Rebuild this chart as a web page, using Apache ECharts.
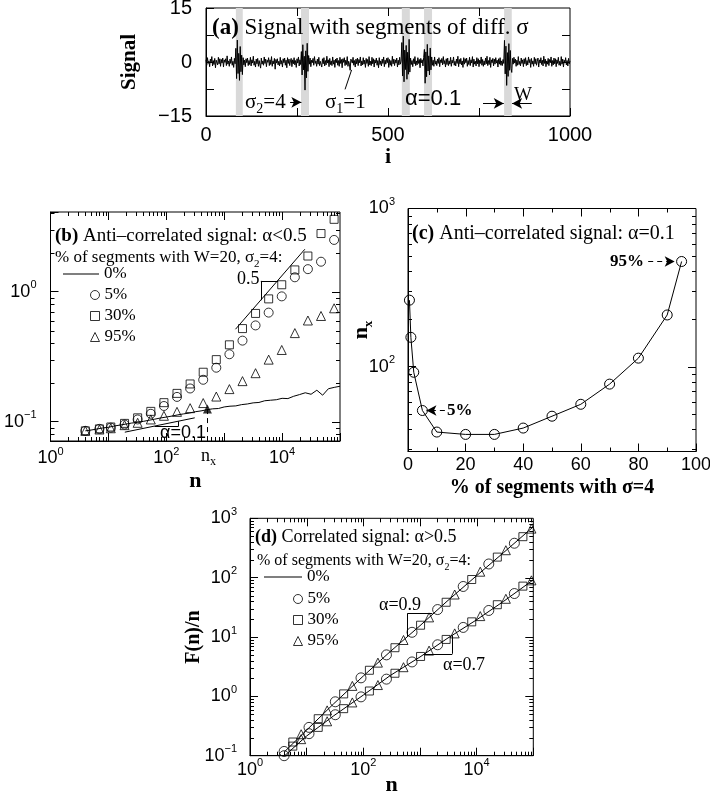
<!DOCTYPE html>
<html><head><meta charset="utf-8">
<script src="https://cdn.jsdelivr.net/npm/echarts@6/dist/echarts.min.js"></script>
<style>html,body{margin:0;padding:0;background:#fff}#c{width:710px;height:796px}</style>
</head><body><div id="c"></div>
<script>
// ---------------- DATA ----------------
// (a) signal, one value per 2 steps of i (i = 0,2,...,1000)
const signal = [
0.6,-0.9,1.2,-0.4,0.3,-1.3,0.8,-0.2,1.5,-1.1,0.4,-0.7,1.0,-1.6,0.5,0.2,-0.8,1.3,-0.5,0.9,
-1.2,0.7,-0.3,1.1,-1.4,0.6,-0.1,0.9,-1.0,1.7,-0.6,0.3,-1.2,0.8,-0.4,1.4,-0.9,0.2,-1.5,1.0,
-0.5,3.8,-4.6,6.1,-3.2,2.4,-5.1,4.3,-2.7,1.9,-3.5,1.2,-0.8,0.5,-1.3,0.9,-0.2,1.1,-1.0,0.4,
-0.7,1.3,-1.1,0.6,-0.3,1.6,-0.9,0.2,-1.4,0.8,-0.5,1.0,-1.2,0.4,0.7,-1.7,1.1,-0.6,0.3,-0.9,
1.4,-0.4,0.8,-1.3,0.5,-0.1,1.2,-1.0,0.6,-0.7,1.5,-1.2,0.3,-0.5,1.0,-2.0,0.7,-0.3,0.9,-0.8,
0.2,-1.1,1.3,-0.6,0.4,-1.4,0.9,-0.2,1.1,-0.9,0.5,-1.6,1.2,-0.4,0.8,-1.0,0.3,1.0,-1.3,0.6,
-0.5,1.2,-0.8,0.4,-1.5,0.9,-0.3,1.4,-1.1,0.6,-0.7,2.9,-3.6,4.8,-2.2,1.6,-7.8,3.1,-4.4,5.2,
-2.6,1.8,-0.6,1.1,-1.3,0.5,-0.2,1.0,-0.9,1.5,-0.4,0.3,-1.2,0.8,-0.6,1.3,-1.0,0.2,0.7,-1.4,
0.9,-0.5,1.2,-1.1,0.4,-0.8,1.6,-0.3,0.6,-1.3,1.0,-0.7,0.3,-1.0,1.4,-0.6,0.5,-1.5,0.8,-0.2,
1.1,-0.9,0.4,-1.2,1.3,-0.4,0.7,-1.6,0.9,-0.1,1.2,-1.0,0.5,-0.7,1.5,-1.2,0.2,-0.6,-2.3,0.8,
0.6,-0.3,1.3,-0.9,0.4,-1.4,0.8,-0.5,1.1,-1.0,0.7,-0.2,1.4,-1.1,0.3,-0.8,1.2,-0.6,0.5,-1.5,
1.0,-0.4,0.7,-1.2,1.5,-0.8,0.2,-1.0,1.3,-0.5,0.9,-1.4,0.6,-0.3,1.1,-0.9,0.4,-1.6,1.2,-0.7,
0.3,-1.1,0.8,-0.4,1.4,-1.3,0.5,-0.6,1.0,-0.2,1.2,-1.5,0.7,-0.9,0.4,-1.2,1.6,-0.5,0.8,-1.0,
0.6,-0.3,1.1,-1.4,0.5,-0.8,1.3,-0.6,0.2,5.4,-3.9,7.2,-5.5,3.3,-2.1,4.6,-4.8,2.7,-3.4,6.3,
-2.8,1.1,-0.7,0.4,-1.3,0.9,-0.5,1.5,-1.0,0.3,-0.8,1.2,-0.4,0.7,-1.6,1.0,-0.2,0.6,-1.1,1.3,
3.5,-5.9,2.8,-4.1,4.9,-2.5,1.7,-3.6,3.9,-2.2,1.4,-0.9,0.5,-1.2,1.4,-0.6,0.3,-1.0,0.8,-0.4,
1.2,-1.3,0.6,-0.2,1.0,-0.8,1.5,-0.5,0.4,-1.4,0.9,-0.7,1.1,-1.0,0.3,-0.6,1.3,-1.2,0.5,-0.3,
1.4,-0.9,0.2,-1.1,0.8,-0.4,1.6,-1.3,0.7,-0.5,1.0,-0.8,0.3,-1.5,1.2,-0.6,0.9,-0.2,1.1,-1.2,
0.4,-0.7,1.3,-1.0,0.6,-0.3,1.5,-1.4,0.8,-0.6,0.2,-1.1,1.2,-0.5,0.9,-1.3,0.5,-0.4,1.4,-0.9,
0.7,-1.2,0.3,-0.8,1.1,-0.5,1.6,-1.0,0.4,-0.7,1.3,-1.5,0.6,-0.2,1.0,-1.1,0.8,-0.6,1.2,-0.3,
0.5,-1.4,0.9,-0.6,1.2,-0.9,0.3,-1.0,0.7,-0.4,6.0,-3.3,4.4,-6.5,2.6,-4.0,5.1,-2.3,3.2,-1.8,
-2.9,1.0,-0.6,1.3,-0.3,0.8,-1.2,0.5,-0.9,1.5,-0.7,0.2,-1.1,1.1,-0.4,0.6,-1.3,0.9,-0.5,1.2,
-1.0,0.4,-0.8,1.4,-0.2,0.7,-1.5,1.0,-0.6,0.3,-1.2,1.3,-0.5,0.9,-0.9,0.2,1.1,-1.4,0.6,-0.3,
1.2,-0.7,0.5,-1.1,1.6,-0.4,0.8,-1.3,0.3,-0.6,1.0,-1.0,0.7,-0.2,1.4,-1.2,0.4,-0.8,1.1,-0.5,
0.9,-1.3,0.6,-0.4,1.3,-0.9,0.2,-1.0,1.5,-0.6,0.8,-1.4,0.5,-0.3,1.2,-0.8,0.4,-1.1,1.0,-0.5,
0.3];
const signalStep = 2;
const segmentsA = [[82,101],[261,283],[538,560],[599,621],[819,840]];

// (b) anti-correlated, F(n)/n
const nB   = [4,7,11,19,32,54,91,153,258,434,730,1230,2070,3480,5860,9860,16600,27900,47000,79100];
const fB5  = [0.085,0.088,0.090,0.095,0.104,0.115,0.132,0.155,0.180,0.210,0.260,0.330,0.420,0.550,0.690,0.920,1.29,1.49,1.70,2.50];
const fB30 = [0.085,0.088,0.091,0.097,0.107,0.120,0.140,0.165,0.195,0.240,0.300,0.390,0.520,0.680,0.880,1.13,1.47,1.88,2.80,3.60];
const fB95 = [0.085,0.087,0.089,0.094,0.098,0.104,0.111,0.119,0.127,0.139,0.156,0.178,0.205,0.236,0.300,0.356,0.480,0.600,0.650,0.745];
const nB0  = [4,5,6,8,10,13,16,20,25,32,40,50,63,80,100,126,158,200,251,316,398,501,631,794,1000,1259,1585,1995,2512,3162,3981,5012,6310,7943,10000,12589,15849,19953,25119,31623,39811,50119,63096,79433,100000];
const fB0  = [0.085,0.0862,0.0874,0.0895,0.0905,0.0928,0.0942,0.0958,0.0975,0.0988,0.1005,0.1025,0.1045,0.1068,0.1085,0.1105,0.1128,0.1148,0.1165,0.1192,0.121,0.1235,0.1255,0.1262,0.1298,0.1315,0.1322,0.1352,0.1368,0.1395,0.1405,0.1448,0.1462,0.1475,0.1512,0.1505,0.1568,0.1615,0.1668,0.1625,0.1745,0.1598,0.1792,0.1835,0.1872];
const nxB  = [513, 0.125];

// (c) crossover n_x vs % of segments
const pctC = [0.5,1,2,5,10,20,30,40,50,60,70,80,90,95];
const nxC  = [263,153,92,52.7,38.5,37.2,37.2,40.8,48.5,57.7,77.4,113,212,462];

// (d) correlated signals (upper: alpha=0.9, lower: alpha=0.7)
const nD5  = [4,11,32,91,256,724,2048,5793,16384,46341];
const nD30 = [5.7,16,45,128,362,1024,2896,8192,23170,65536];
const nD95 = [8,23,64,181,512,1448,4096,11585,32768,92682];
const dHi5  = [0.118,0.30,0.81,2.05,5.0,12,29,71,170,380];
const dHi30 = [0.17,0.42,1.1,2.75,6.6,15.8,38.5,93,222,490];
const dHi95 = [0.23,0.58,1.5,3.7,8.9,21.4,52,126,290,670];
const dLo5  = [0.10,0.235,0.49,0.98,1.95,3.8,7.4,14.5,28,54];
const dLo30 = [0.145,0.30,0.62,1.23,2.45,4.7,9.1,18,35,72];
const dLo95 = [0.19,0.38,0.79,1.55,3.1,5.9,11.5,22.5,44,90];
const nD0  = [4,10,30,100,300,1000,3000,10000,30000,100000];
const dHi0 = [0.115,0.27,0.75,2.2,5.7,15.5,40,108,265,720];
const dLo0 = [0.098,0.215,0.47,1.05,2.25,4.6,9.4,19.5,40,92];

// ---------------- HELPERS ----------------
const SANS = '"Liberation Sans", Arial, sans-serif';
const SERIF = '"Liberation Serif", "Times New Roman", serif';
const BLACK = '#000';
const pairs = (xs, ys) => xs.map((x, i) => [x, ys[i]]);
const EMPTY = {color: 'rgba(0,0,0,0)', borderColor: BLACK, borderWidth: 1};

function powFmt(show) {
  return function (v) {
    const l = Math.log10(v), e = Math.round(l);
    if (Math.abs(l - e) > 1e-6 || show.indexOf(e) < 0) return '';
    return '{b|10}{s|' + (e < 0 ? '\u2212' + (-e) : e) + '}';
  };
}
const POW = {
  b: {fontFamily: SANS, fontSize: 18, lineHeight: 24, color: BLACK},
  s: {fontFamily: SANS, fontSize: 11, lineHeight: 11, verticalAlign: 'top', color: BLACK}
};
function axis(o) {
  const base = {
    axisLine: {show: true, onZero: false, lineStyle: {color: BLACK, width: 1}},
    axisTick: {show: true, inside: true, length: 8, lineStyle: {color: BLACK, width: 1}},
    splitLine: {show: false},
    axisLabel: {color: BLACK, fontFamily: SANS, fontSize: 18},
    nameTextStyle: {color: BLACK, fontFamily: SERIF, fontWeight: 'bold', fontSize: 22},
    nameLocation: 'middle',
    nameMoveOverlap: false
  };
  const r = Object.assign({}, base, o);
  r.axisLabel = Object.assign({}, base.axisLabel, o.axisLabel || {});
  r.nameTextStyle = Object.assign({}, base.nameTextStyle, o.nameTextStyle || {});
  return r;
}
function logMinor(lo, hi) {
  const r = [];
  for (let e = Math.floor(Math.log10(lo)) - 1; e <= Math.ceil(Math.log10(hi)); e++)
    for (let m = 2; m <= 9; m++) {
      const v = m * Math.pow(10, e);
      if (v > lo * 1.0001 && v < hi * 0.9999) r.push(v);
    }
  return r;
}
// ticks on opposite sides + minor ticks, drawn through the axes' own scales
function tickSeries(gi, xMaj, xMin, yMaj, yMin, xRef, yRef) {
  const d = [];
  xMaj.forEach(v => d.push([v, yRef, 0, 1]));
  xMin.forEach(v => d.push([v, yRef, 0, 0]));
  yMaj.forEach(v => d.push([xRef, v, 1, 1]));
  yMin.forEach(v => d.push([xRef, v, 1, 0]));
  return {
    type: 'custom', xAxisIndex: gi, yAxisIndex: gi, silent: true, clip: false, z: 10,
    data: d,
    renderItem: function (params, api) {
      const cs = params.coordSys;
      const p = api.coord([api.value(0), api.value(1)]);
      const kind = api.value(2), major = api.value(3);
      const L = major ? 8 : 4;
      const st = {stroke: BLACK, lineWidth: 1};
      const ch = [];
      const ln = (x1, y1, x2, y2) => ({type: 'line', shape: {x1, y1, x2, y2}, style: st});
      if (kind === 0) {
        const x = Math.round(p[0]) + 0.5;
        if (!major) ch.push(ln(x, cs.y + cs.height, x, cs.y + cs.height - L));
        ch.push(ln(x, cs.y, x, cs.y + L));
      } else {
        const y = Math.round(p[1]) + 0.5;
        if (!major) ch.push(ln(cs.x, y, cs.x + L, y));
        ch.push(ln(cs.x + cs.width, y, cs.x + cs.width - L, y));
      }
      return {type: 'group', children: ch};
    }
  };
}
function seg(a, b, dashed, arrow) {
  return [
    {coord: a, symbol: 'none', lineStyle: {color: BLACK, width: 1, type: dashed ? [5, 4] : 'solid'}},
    {coord: b, symbol: arrow ? 'arrow' : 'none', symbolSize: arrow ? [8, 10] : 0}
  ];
}
function marks(data) {
  return {silent: true, animation: false, symbol: ['none', 'none'], label: {show: false},
          lineStyle: {color: BLACK, width: 1, type: 'solid'}, emphasis: {disabled: true}, data};
}
function note(left, cy, text, size, family, extra) {
  const lh = Math.round(size * 1.35);
  const t = Object.assign({
    text, left, top: cy - lh / 2, padding: 0,
    textStyle: {
      fontFamily: family || SERIF, fontSize: size, fontWeight: 'normal', color: BLACK, lineHeight: lh,
      rich: {
        b: {fontWeight: 'bold', fontFamily: family || SERIF, fontSize: size, lineHeight: lh},
        sub: {fontSize: Math.round(size * 0.65), lineHeight: Math.round(size * 0.65), verticalAlign: 'bottom', fontFamily: family || SERIF}
      }
    }
  }, extra || {});
  return t;
}
const LEG_NAMES = {b0: '0%', b5: '5%', b30: '30%', b95: '95%', d0: '0%', d5: '5%', d30: '30%', d95: '95%'};
function legend(names, left, top, w, h, isLine) {
  return {
    data: isLine ? names.map(n => ({name: n, icon: 'rect'})) : names,
    left, top, orient: 'vertical', padding: 0, itemGap: 1,
    itemWidth: w, itemHeight: h, selectedMode: false,
    formatter: n => LEG_NAMES[n],
    textStyle: {fontFamily: SERIF, fontSize: 17, color: BLACK, lineHeight: 20},
    itemStyle: isLine ? {color: BLACK, borderWidth: 0} : {color: 'rgba(0,0,0,0)', borderColor: BLACK, borderWidth: 1},
    lineStyle: {color: BLACK, width: 1}
  };
}
function scatter(name, gi, xs, ys, symbol, size) {
  return {type: 'scatter', name, xAxisIndex: gi, yAxisIndex: gi, data: pairs(xs, ys),
          symbol, symbolSize: size, itemStyle: EMPTY, z: 4};
}
function curve(name, gi, xs, ys) {
  return {type: 'line', name, xAxisIndex: gi, yAxisIndex: gi, symbol: 'none', showSymbol: false,
          data: pairs(xs, ys), itemStyle: {color: BLACK}, lineStyle: {color: BLACK, width: 1}, z: 3};
}

// ---------------- OPTION ----------------
const gridBase = {show: true, borderColor: BLACK, borderWidth: 1, backgroundColor: 'transparent', containLabel: false, outerBoundsMode: 'none'};
const curveB = curve('b0', 1, nB0, fB0);
curveB.markLine = marks([
  seg([1567, 0.514], [24700, 2.12]),
  seg([4290, 0.86], [4290, 1.21]),
  seg([4290, 1.21], [8510, 1.21]),
  seg([19.2, 0.083], [310, 0.107]),
  seg([63, 0.0915], [160, 0.0915]),
  seg([160, 0.0915], [160, 0.1007]),
  seg(nxB, [nxB[0], 0.071], true, false)
]);
const curveDHi = curve('d0', 3, nD0, dHi0);
curveDHi.markLine = marks([
  seg([597, 10.1], [597, 24.8]),
  seg([597, 24.8], [1650, 24.8]),
  seg([1200, 5.22], [3720, 5.22]),
  seg([3720, 5.22], [3720, 10.7])
]);

const option = {
  animation: false,
  backgroundColor: '#fff',
  grid: [
    Object.assign({left: 206, top: 8, width: 364, height: 108}, gridBase),
    Object.assign({left: 50.5, top: 212, width: 289.5, height: 229}, gridBase),
    Object.assign({left: 408, top: 208.5, width: 288, height: 243}, gridBase),
    Object.assign({left: 250, top: 518.3, width: 283.3, height: 237.4}, gridBase)
  ],
  xAxis: [
    axis({type: 'value', gridIndex: 0, min: 0, max: 1000, interval: 250, name: 'i', nameGap: 30,
          axisLabel: {fontSize: 20, margin: 9, formatter: v => (v % 500 === 0 ? String(v) : '')}}),
    axis({type: 'log', logBase: 10, gridIndex: 1, min: 1, max: 100000, name: 'n', nameGap: 29,
          axisLabel: {margin: 5, formatter: powFmt([0, 2, 4]), rich: POW}}),
    axis({type: 'value', gridIndex: 2, min: 0, max: 100, interval: 20, name: '% of segments with σ=4', nameGap: 26,
          nameTextStyle: {fontSize: 20}, axisLabel: {margin: 5}}),
    axis({type: 'log', logBase: 10, gridIndex: 3, min: 1, max: 100000, name: 'n', nameGap: 19,
          axisLabel: {margin: 2, formatter: powFmt([0, 2, 4]), rich: POW}})
  ],
  yAxis: [
    axis({type: 'value', gridIndex: 0, min: -15, max: 15, interval: 7.5, name: 'Signal', nameGap: 66, nameRotate: 90,
          nameTextStyle: {fontSize: 21},
          axisLabel: {fontSize: 20, margin: 14, formatter: v => (Math.abs(v % 15) < 1e-9 ? (v < 0 ? '\u2212' + (-v) : String(v)) : '')}}),
    axis({type: 'log', logBase: 10, gridIndex: 1, min: 0.071, max: 4.1,
          axisLabel: {margin: 14, formatter: powFmt([-1, 0]), rich: POW}}),
    axis({type: 'log', logBase: 10, gridIndex: 2, min: 29, max: 1000, name: 'n{x|x}', nameGap: 33, nameRotate: 90,
          nameTextStyle: {lineHeight: 28, rich: {x: {fontFamily: SERIF, fontWeight: 'bold', fontSize: 13, lineHeight: 13, verticalAlign: 'bottom'}}},
          axisLabel: {margin: 13, formatter: powFmt([2, 3]), rich: POW}}),
    axis({type: 'log', logBase: 10, gridIndex: 3, min: 0.1, max: 1000, name: 'F(n)/n', nameGap: 46, nameRotate: 90,
          nameTextStyle: {fontSize: 20},
          axisLabel: {margin: 13, formatter: powFmt([-1, 0, 1, 2, 3]), rich: POW}})
  ],
  legend: [
    legend(['b0'], 63, 264, 36, 1, true),
    legend(['b5', 'b30', 'b95'], 90, 285, 9, 9, false),
    legend(['d0'], 264, 567, 38, 1, true),
    legend(['d5', 'd30', 'd95'], 293, 589, 9, 9, false)
  ],
  title: [
    note(212, 28, '{b|(a)} Signal with segments of diff. σ', 23),
    note(245, 102, 'σ{sub|2}=4', 21),
    note(325, 102, 'σ{sub|1}=1', 21),
    note(405, 99, 'α=0.1', 22, SANS),
    note(514, 95, 'W', 19),
    note(55, 236, '{b|(b)} Anti\u2013correlated signal: α<0.5', 19),
    note(55, 258, '% of segments with W=20, σ{sub|2}=4:', 17),
    note(237, 279, '0.5', 18),
    note(160, 433, 'α=0.1', 18, SANS),
    note(201, 456, 'n{sub|x}', 18),
    note(412, 234, '{b|(c)} Anti\u2013correlated signal: α=0.1', 20),
    note(610, 262, '{b|95%}', 17),
    note(447, 411, '{b|5%}', 17),
    note(255, 537, '{b|(d)} Correlated signal: α>0.5', 18),
    note(257, 561, '% of segments with W=20, σ{sub|2}=4:', 16),
    note(379, 605, 'α=0.9', 18),
    note(443, 665, 'α=0.7', 18)
  ],
  series: [
    // ---- (a)
    {type: 'line', name: 'signal', xAxisIndex: 0, yAxisIndex: 0, symbol: 'none', showSymbol: false, sampling: 'none',
     data: signal.map((v, k) => [k * signalStep, v]), itemStyle: {color: BLACK}, lineStyle: {color: BLACK, width: 1}, z: 3,
     markArea: {silent: true, itemStyle: {color: '#d9d9d9'}, data: segmentsA.map(s => [{xAxis: s[0]}, {xAxis: s[1]}])},
     markLine: marks([
       seg([231, -11.2], [262, -11.2], false, true),
       seg([761, -11.5], [818, -11.5], false, true),
       seg([895, -11.5], [841, -11.5], false, true),
       seg([382, -7.6], [400, -2.2], false, false)
     ])},
    tickSeries(0, [250, 500, 750], [], [-7.5, 0, 7.5], [], 0, 0),
    // ---- (b)
    curveB,
    scatter('b5', 1, nB, fB5, 'circle', 9),
    scatter('b30', 1, nB, fB30, 'rect', 8),
    scatter('b95', 1, nB, fB95, 'triangle', 9),
    {type: 'scatter', name: 'bnx', xAxisIndex: 1, yAxisIndex: 1, data: [nxB], symbol: 'triangle', symbolSize: 9,
     itemStyle: {color: BLACK}, z: 5},
    tickSeries(1, [10, 100, 1000, 10000], logMinor(1, 100000), [0.1, 1], logMinor(0.071, 4.1), 10, 0.1),
    // ---- (c)
    {type: 'line', name: 'c', xAxisIndex: 2, yAxisIndex: 2, data: pairs(pctC, nxC), symbol: 'circle', symbolSize: 10,
     showSymbol: true, showAllSymbol: true, itemStyle: EMPTY, lineStyle: {color: BLACK, width: 1}, z: 3,
     markLine: marks([
       seg([83.4, 462], [92.6, 462], true, true),
       seg([12.8, 52.7], [6.4, 52.7], true, true)
     ])},
    tickSeries(2, [20, 40, 60, 80], [10, 30, 50, 70, 90], [100], logMinor(29, 1000), 50, 100),
    // ---- (d)
    curveDHi,
    curve('d0', 3, nD0, dLo0),
    scatter('d5', 3, nD5, dHi5, 'circle', 10),
    scatter('d30', 3, nD30, dHi30, 'rect', 8),
    scatter('d95', 3, nD95, dHi95, 'triangle', 9),
    scatter('d5', 3, nD5, dLo5, 'circle', 10),
    scatter('d30', 3, nD30, dLo30, 'rect', 8),
    scatter('d95', 3, nD95, dLo95, 'triangle', 9),
    tickSeries(3, [10, 100, 1000, 10000], logMinor(1, 100000), [1, 10, 100], logMinor(0.1, 1000), 10, 1)
  ]
};
const chart = echarts.init(document.getElementById('c'), null, {renderer: 'canvas', width: 710, height: 796});
chart.setOption(option);
</script>
</body></html>
